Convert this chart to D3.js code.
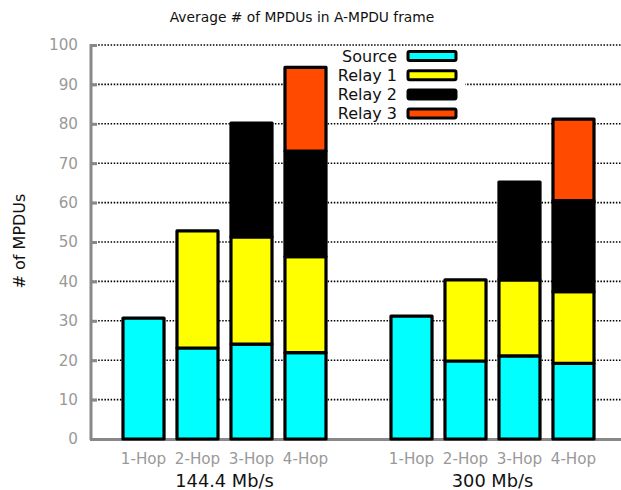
<!DOCTYPE html>
<html><head><meta charset="utf-8">
<script src="https://cdn.jsdelivr.net/npm/d3@7"></script>
<style>body{margin:0;background:#fff}svg{display:block;font-family:"DejaVu Sans",sans-serif}</style>
</head><body><svg id="c" width="621" height="490"></svg>
<script>
const groups = ["144.4 Mb/s", "300 Mb/s"];
const hops = ["1-Hop", "2-Hop", "3-Hop", "4-Hop"];
const seriesNames = ["Source", "Relay 1", "Relay 2", "Relay 3"];
const seriesColors = ["#00ffff", "#ffff00", "#000000", "#ff4a00"];
const source = [30.7, 23.1, 24.1, 21.9, 31.2, 19.8, 21.1, 19.2];
const relay1 = [0, 29.7, 27.2, 24.4, 0, 20.6, 19.3, 18.2];
const relay2 = [0, 0, 28.9, 26.8, 0, 0, 24.8, 23.1];
const relay3 = [0, 0, 0, 21.2, 0, 0, 0, 20.7];
const yTicks = [0,10,20,30,40,50,60,70,80,90,100];

const svg = d3.select("#c");
const y = d3.scaleLinear().domain([0,100]).range([439,45]);
const groupX = d3.scaleBand().domain(groups).range([123,594]).paddingInner(0.2425);
const hopX = d3.scaleBand().domain(hops).range([0, groupX.bandwidth()]).paddingInner(0.24);

// gridlines
svg.append("g").selectAll("line").data(yTicks.slice(1)).join("line")
  .attr("x1",92).attr("x2",621).attr("y1",d=>y(d)).attr("y2",d=>y(d))
  .attr("stroke","#000").attr("stroke-width",1.6).attr("stroke-dasharray","1.5,1.6");

// legend background
svg.append("rect").attr("x",326).attr("y",47).attr("width",139).attr("height",75).attr("fill","#fff");

// axes
const yAxis = d3.axisLeft(y).tickValues(yTicks).tickSize(-6).tickPadding(13);
const gy = svg.append("g").attr("transform","translate(91,0)").call(yAxis);
gy.select(".domain").remove();
gy.selectAll(".tick line").attr("stroke","#888").attr("stroke-width",3);
gy.selectAll(".tick text").attr("fill","#999").attr("font-size",15.2).attr("font-family","DejaVu Sans");
svg.append("line").attr("x1",91).attr("x2",91).attr("y1",44).attr("y2",440).attr("stroke","#888").attr("stroke-width",3);
svg.append("line").attr("x1",90).attr("x2",621).attr("y1",439.5).attr("y2",439.5).attr("stroke","#888").attr("stroke-width",3);

// bars
const series = [source, relay1, relay2, relay3];
const barG = svg.append("g");
groups.forEach((g, gi) => {
  hops.forEach((h, hi) => {
    const idx = gi*4 + hi;
    let base = 0;
    series.forEach((s, si) => {
      const v = s[idx];
      if (v > 0) {
        barG.append("rect")
          .attr("x", groupX(g) + hopX(h))
          .attr("width", hopX.bandwidth())
          .attr("y", y(base + v))
          .attr("height", y(base) - y(base + v))
          .attr("fill", seriesColors[si])
          .attr("stroke", "#000").attr("stroke-width", 3.2).attr("stroke-linejoin","round");
      }
      base += v;
    });
  });
});

// x labels
groups.forEach(g => {
  hops.forEach(h => {
    svg.append("text").attr("x", groupX(g)+hopX(h)+hopX.bandwidth()/2).attr("y", 464)
      .attr("text-anchor","middle").attr("fill","#999").attr("font-size",15.2).text(h);
  });
  svg.append("text").attr("x", groupX(g)+groupX.bandwidth()/2).attr("y", 487)
    .attr("text-anchor","middle").attr("fill","#111").attr("font-size",17.8).text(g);
});

// legend
seriesNames.forEach((n, i) => {
  const ly = 56 + i*19.2;
  svg.append("text").attr("x",397).attr("y",ly+5.5).attr("text-anchor","end")
    .attr("font-size",16).attr("fill","#111").text(n);
  svg.append("rect").attr("x",408).attr("y",ly-4.5).attr("width",48).attr("height",9)
    .attr("rx",1.5).attr("fill",seriesColors[i]).attr("stroke","#000").attr("stroke-width",3);
});

// title
svg.append("text").attr("x",302).attr("y",22).attr("text-anchor","middle")
  .attr("font-size",13.8).attr("fill","#111").text("Average # of MPDUs in A-MPDU frame");
// y label
svg.append("text").attr("transform","translate(25,241) rotate(-90)").attr("text-anchor","middle")
  .attr("font-size",16).attr("fill","#111").text("# of MPDUs");
</script></body></html>
